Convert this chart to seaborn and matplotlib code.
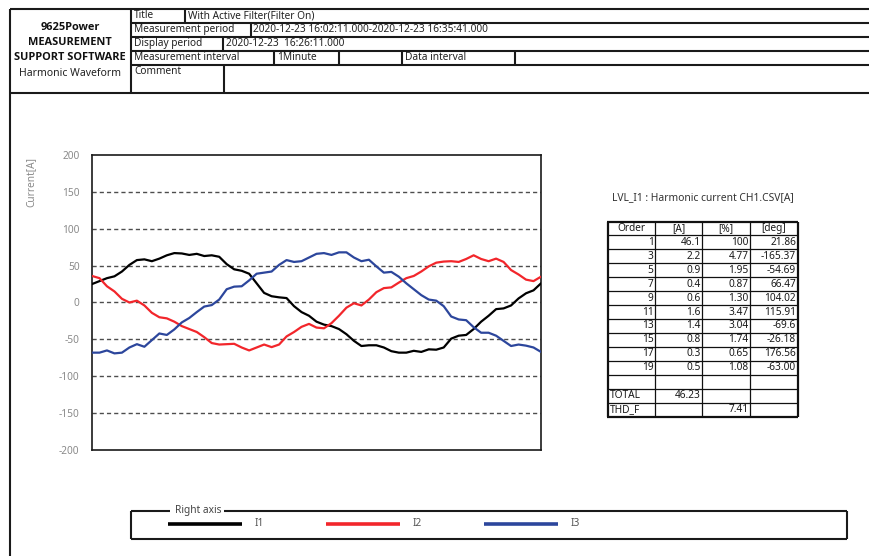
import numpy as np
import pandas as pd
import matplotlib
matplotlib.use("Agg")
import matplotlib.pyplot as plt
import seaborn as sns

# ---- waveform samples over one cycle [A] ----
i1 = [25, 29, 33, 35.5, 42, 51, 57.5, 58.5, 56, 59.5, 64, 67, 66.5, 64.5, 66, 63,
      64, 62, 52, 45, 43, 39, 26, 13, 8.5, 7, 6, -5, -13, -18, -26, -30, -32, -36,
      -43, -52, -59, -58, -58, -61, -66, -68, -68, -65.5, -67, -63.5, -64, -61,
      -49, -45, -44, -36, -26, -18, -9, -8, -4, 5.5, 12.5, 16.5, 26]
i2 = [36, 33, 22, 15, 5, 0, 2.5, -4, -14, -20, -21.5, -26, -32, -36, -40, -47,
      -55, -57, -56.5, -56, -61, -65, -61, -57, -60.5, -57, -46, -40, -33, -29,
      -34, -35, -28, -18, -7, -1, -4, 4, 14, 19.5, 20.5, 27, 33, 36, 42, 49, 54,
      55.5, 56, 55, 59, 64, 59, 56, 59.5, 55, 44, 38, 31, 29, 35]
i3 = [-68, -68, -65, -69, -68, -61, -56.5, -60, -51, -42, -44, -36.5, -27, -21,
      -13, -5.5, -3.5, 4, 18, 21.5, 22, 30, 39, 40.5, 42, 51, 57.5, 55, 56, 61,
      66, 67, 64.5, 68, 68, 61, 56, 58, 49, 40.5, 41.5, 35, 26, 18, 10, 4, 2.5,
      -5, -19, -23, -24, -33.5, -41, -41, -45, -52, -59, -57, -58.5, -61, -67]
series_names = ["I1", "I2", "I3"]
series_colors = ["#000000", "#F2262B", "#2C469C"]
y_ticks = [200, 150, 100, 50, 0, -50, -100, -150, -200]

# ---- harmonic table (LVL_I1) ----
h_order = ["1", "3", "5", "7", "9", "11", "13", "15", "17", "19"]
h_amp = ["46.1", "2.2", "0.9", "0.4", "0.6", "1.6", "1.4", "0.8", "0.3", "0.5"]
h_pct = ["100", "4.77", "1.95", "0.87", "1.30", "3.47", "3.04", "1.74", "0.65", "1.08"]
h_deg = ["21.86", "-165.37", "-54.69", "66.47", "104.02", "115.91", "-69.6",
         "-26.18", "176.56", "-63.00"]
total_amp = "46.23"
thd_f = "7.41"

sns.set_style("white")
plt.rcParams["font.family"] = ["Noto Sans", "DejaVu Sans"]
plt.rcParams["axes.unicode_minus"] = False

W, H = 869, 556
fig = plt.figure(figsize=(W / 100, H / 100), dpi=100)

# page overlay in pixel coordinates
bg = fig.add_axes([0, 0, 1, 1], zorder=0)
bg.set_xlim(0, W)
bg.set_ylim(H, 0)
bg.axis("off")

def hline(x0, x1, y, lw=1.5, c="#1a1a1a"):
    bg.plot([x0, x1], [y, y], color=c, lw=lw, solid_capstyle="butt")

def vline(x, y0, y1, lw=1.5, c="#1a1a1a"):
    bg.plot([x, x], [y0, y1], color=c, lw=lw, solid_capstyle="butt")

# ---- header block ----
rows = [8.5, 22.5, 36.5, 50.5, 65, 93]
hline(10, W, rows[0])
hline(131, W, rows[1])
hline(131, W, rows[2])
hline(131, W, rows[3])
hline(131, W, rows[4])
hline(10, W, rows[5])
vline(10, rows[0], H)
vline(131, rows[0], rows[5])
vline(185, rows[0], rows[1])
vline(250.5, rows[1], rows[2])
vline(222.5, rows[2], rows[3])
for xv in (274, 338.5, 401.5, 514.5):
    vline(xv, rows[3], rows[4])
vline(223.5, rows[4], rows[5])

hfs = 7.3
hc = "#222222"
bg.text(134, 15.5, "Title", fontsize=hfs, color=hc, va="center")
bg.text(188, 15.5, "With Active Filter(Filter On)", fontsize=hfs, color=hc, va="center")
bg.text(134, 29.5, "Measurement period", fontsize=hfs, color=hc, va="center")
bg.text(253, 29.5, "2020-12-23 16:02:11.000-2020-12-23 16:35:41.000",
        fontsize=hfs, color=hc, va="center")
bg.text(134, 43.5, "Display period", fontsize=hfs, color=hc, va="center")
bg.text(226, 43.5, "2020-12-23  16:26:11.000", fontsize=hfs, color=hc, va="center")
bg.text(134, 57.5, "Measurement interval", fontsize=hfs, color=hc, va="center")
bg.text(277, 57.5, "1Minute", fontsize=hfs, color=hc, va="center")
bg.text(405, 57.5, "Data interval", fontsize=hfs, color=hc, va="center")
bg.text(134, 71.5, "Comment", fontsize=hfs, color=hc, va="center")

bold_family = ["Open Sans", "DejaVu Sans"]
bfs = 7.9
bg.text(70, 27, "9625Power", fontsize=bfs, weight="bold", family=bold_family,
        color="#111", ha="center", va="center")
bg.text(70, 42.5, "MEASUREMENT", fontsize=bfs, weight="bold", family=bold_family,
        color="#111", ha="center", va="center")
bg.text(70, 58, "SUPPORT SOFTWARE", fontsize=bfs, weight="bold", family=bold_family,
        color="#111", ha="center", va="center")
bg.text(70, 74, "Harmonic Waveform", fontsize=7.5, color="#222", ha="center", va="center")

# ---- waveform chart ----
n = len(i1)
sample = np.arange(n)
df = pd.DataFrame({
    "sample": np.tile(sample, 3),
    "current": np.concatenate([i1, i2, i3]),
    "phase": np.repeat(series_names, n),
})
ax = fig.add_axes([92 / W, 1 - 450 / H, 449 / W, 295 / H], zorder=2)
ax.set_facecolor("none")
sns.lineplot(data=df, x="sample", y="current", hue="phase",
             palette=dict(zip(series_names, series_colors)),
             linewidth=1.6, legend=False, ax=ax, zorder=3)
ax.set_xlim(sample[0], sample[-1])
ax.set_ylim(-200, 200)
ax.set_yticks(y_ticks)
ax.set_xticks([])
for v in y_ticks[1:-1]:
    ax.axhline(v, color="#4d4d4d", lw=1.0, ls=(0, (3.0, 2.2)), zorder=1)
ax.tick_params(axis="y", length=0, pad=9, labelsize=7.3, labelcolor="#8a8a8a")
ax.set_xlabel("")
ax.set_ylabel("")
for s in ax.spines.values():
    s.set_visible(True)
    s.set_color("#1a1a1a")
    s.set_linewidth(1.2)
bg.text(31, 182, "Current[A]", fontsize=7.3, color="#8a8a8a", rotation=90,
        ha="center", va="center")

# ---- harmonic table ----
bg.text(612, 198, "LVL_I1 : Harmonic current CH1.CSV[A]", fontsize=7.4,
        color="#333", va="center")
cx = [607.5, 655, 702, 750, 797.5]
ty0, rh = 221.5, 13.93
nrows = 14
ty1 = ty0 + rh * nrows
for r in range(1, nrows):
    hline(cx[0], cx[-1], ty0 + rh * r, lw=0.9, c="#111")
for xv in cx[1:-1]:
    vline(xv, ty0, ty1, lw=0.9, c="#111")
hline(cx[0] - 0.8, cx[-1] + 0.8, ty0, lw=1.6, c="#111")
hline(cx[0] - 0.8, cx[-1] + 0.8, ty1, lw=1.6, c="#111")
vline(cx[0], ty0, ty1, lw=1.6, c="#111")
vline(cx[-1], ty0, ty1, lw=1.6, c="#111")

tfs = 7.3
tc = "#1a1a1a"
def rowy(r):
    return ty0 + rh * (r + 0.5)
for j, head in enumerate(["Order", "[A]", "[%]", "[deg]"]):
    bg.text((cx[j] + cx[j + 1]) / 2, rowy(0), head, fontsize=tfs, color=tc,
            ha="center", va="center")
for i in range(len(h_order)):
    vals = [h_order[i], h_amp[i], h_pct[i], h_deg[i]]
    for j, v in enumerate(vals):
        bg.text(cx[j + 1] - 1.5, rowy(i + 1), v, fontsize=tfs, color=tc,
                ha="right", va="center")
bg.text(cx[0] + 2, rowy(12), "TOTAL", fontsize=tfs, color=tc, va="center")
bg.text(cx[2] - 1.5, rowy(12), total_amp, fontsize=tfs, color=tc, ha="right", va="center")
bg.text(cx[0] + 2, rowy(13), "THD_F", fontsize=tfs, color=tc, va="center")
bg.text(cx[3] - 1.5, rowy(13), thd_f, fontsize=tfs, color=tc, ha="right", va="center")

# ---- legend frame ----
lx0, lx1, ly0, ly1 = 131, 847, 511, 539
hline(lx0, 170, ly0)
hline(224, lx1, ly0)
hline(lx0, lx1, ly1)
vline(lx0, ly0, ly1)
vline(lx1, ly0, ly1)
bg.text(175, ly0, "Right axis", fontsize=7.3, color="#444", va="center")
leg_x = [168, 326, 484]
for name, col, x0 in zip(series_names, series_colors, leg_x):
    bg.plot([x0, x0 + 74], [524, 524], color=col, lw=2.6, solid_capstyle="butt")
    bg.text(x0 + 87, 524, name, fontsize=7.3, color="#555", va="center")

fig.savefig("out.png", dpi=100)
